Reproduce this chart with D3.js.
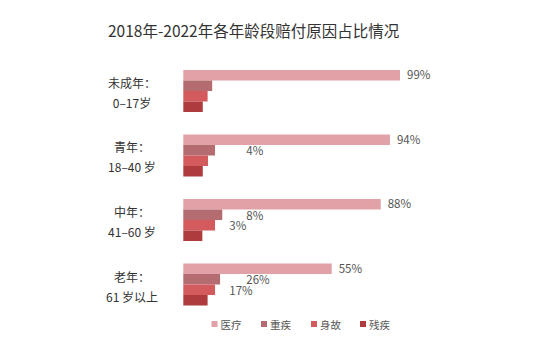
<!DOCTYPE html>
<html><head><meta charset="utf-8">
<script src="https://cdn.jsdelivr.net/npm/d3@7"></script>
<style>
html,body{margin:0;padding:0;background:#fff;}
svg{display:block;font-family:"Noto Sans CJK SC","Noto Sans",sans-serif;}
</style></head>
<body><svg id="c" width="557" height="356"></svg>
<script>
const title = "2018年-2022年各年龄段赔付原因占比情况";
const categories = ["未成年", "青年", "中年", "老年"];
const categoryLine1 = ["未成年：", "青年：", "中年：", "老年："];
const categoryLine2 = ["0–17岁", "18–40 岁", "41–60 岁", "61 岁以上"];
const seriesNames = ["医疗", "重疾", "身故", "残疾"];
const seriesColors = ["#e1a2a7", "#b56c71", "#d35b5d", "#ae3c3e"];
// bar lengths as drawn (percent units)
const medical = [99, 94.4, 90.2, 67.8];
const critical = [13.2, 14.5, 17.8, 16.8];
const death = [11.1, 11.3, 14.5, 14.5];
const disability = [8.9, 8.9, 8.7, 11.1];
// printed labels
const medicalLabels = ["99%", "94%", "88%", "55%"];
const criticalLabels = ["", "4%", "8%", "26%"];
const deathLabels = ["", "", "3%", "17%"];

const series = [medical, critical, death, disability];
const svg = d3.select("#c");

svg.append("text").attr("x", 108).attr("y", 37)
  .attr("font-size", 15.5).attr("fill", "#333").text(title);

const y = d3.scaleBand().domain(categories).range([70, 305.5]).paddingInner(0.349).paddingOuter(0);
const yi = d3.scaleBand().domain(seriesNames).range([0, y.bandwidth()]);
const x = d3.scaleLinear().domain([0, 100]).range([183.3, 402.2]);

const g = svg.append("g");
categories.forEach((c, ci) => {
  series.forEach((arr, si) => {
    g.append("rect")
      .attr("x", x(0)).attr("y", y(c) + yi(seriesNames[si]))
      .attr("width", x(arr[ci]) - x(0)).attr("height", yi.bandwidth())
      .attr("fill", seriesColors[si]);
  });
  // row labels
  const cy = y(c) + y.bandwidth() / 2;
  g.append("text").attr("x", 132).attr("y", cy - 3).attr("text-anchor", "middle")
    .attr("font-size", 12).attr("fill", "#333").text(categoryLine1[ci]);
  g.append("text").attr("x", 132).attr("y", cy + 17).attr("text-anchor", "middle")
    .attr("font-size", 12).attr("fill", "#333").text(categoryLine2[ci]);
  // value labels
  g.append("text").attr("x", x(medical[ci]) + 7)
    .attr("y", y(c) + yi("医疗") + yi.bandwidth() / 2 + 4)
    .attr("font-size", 11.5).attr("fill", "#555").text(medicalLabels[ci]);
  if (criticalLabels[ci]) g.append("text").attr("x", x(0) + 63)
    .attr("y", y(c) + yi("重疾") + yi.bandwidth() / 2 + 5)
    .attr("font-size", 11.5).attr("fill", "#555").text(criticalLabels[ci]);
  if (deathLabels[ci]) g.append("text").attr("x", x(0) + 46)
    .attr("y", y(c) + yi("身故") + yi.bandwidth() / 2 + 5)
    .attr("font-size", 11.5).attr("fill", "#555").text(deathLabels[ci]);
});

// legend
const lx = [211.5, 261, 311, 360];
seriesNames.forEach((n, i) => {
  svg.append("rect").attr("x", lx[i]).attr("y", 321).attr("width", 6).attr("height", 6)
    .attr("fill", seriesColors[i]);
  svg.append("text").attr("x", lx[i] + 9).attr("y", 328.5)
    .attr("font-size", 10.5).attr("fill", "#555").text(n);
});
</script></body></html>
